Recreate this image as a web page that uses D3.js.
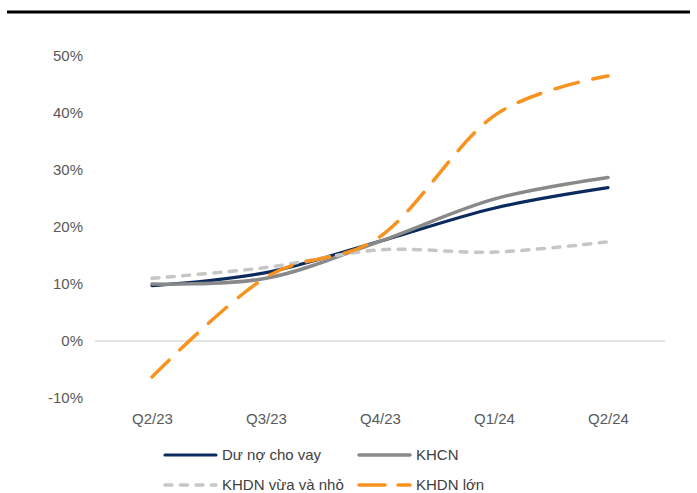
<!DOCTYPE html>
<html>
<head>
<meta charset="utf-8">
<script src="https://cdn.jsdelivr.net/npm/d3@7"></script>
<style>
  html, body { margin: 0; padding: 0; background: #ffffff; }
  svg { display: block; font-family: Arial, "Liberation Sans", sans-serif; }
</style>
</head>
<body>
<svg id="chart" width="697" height="493"></svg>
<script>
// Quarters on the x axis
const quarters = ["Q2/23", "Q3/23", "Q4/23", "Q1/24", "Q2/24"];

// Year-on-year growth (%) per segment
const duNoChoVay = [9.7, 12.0, 17.5, 23.3, 26.9];
const khcn = [10.0, 11.0, 17.5, 24.9, 28.7];
const khdnVuaVaNho = [11.0, 12.9, 16.0, 15.6, 17.4];
const khdnLon = [-6.3, 11.2, 18.3, 39.5, 46.5];

// Y axis ticks (%)
const yTicks = [-10, 0, 10, 20, 30, 40, 50];

const series = [
  { name: "Dư nợ cho vay", values: duNoChoVay, color: "#0b2a5e", width: 3.2, dash: null, legendDash: null },
  { name: "KHCN", values: khcn, color: "#898989", width: 3.5, dash: null, legendDash: null },
  { name: "KHDN vừa và nhỏ", values: khdnVuaVaNho, color: "#c6c6c6", width: 3.5, dash: "7,8.5", legendDash: "7,8.5" },
  { name: "KHDN lớn", values: khdnLon, color: "#f7931e", width: 3.5, dash: "24,15", legendDash: "26,13" }
];

const labelFont = "15px";
const svg = d3.select("#chart");

// Top rule
svg.append("line")
  .attr("x1", 7).attr("x2", 690)
  .attr("y1", 12).attr("y2", 12)
  .attr("stroke", "#000").attr("stroke-width", 3);

const x = d3.scalePoint().domain(quarters).range([152, 608]);
const y = d3.scaleLinear().domain([-10, 50]).range([398, 56]);

// Zero line
svg.append("line")
  .attr("x1", 95).attr("x2", 665)
  .attr("y1", y(0)).attr("y2", y(0))
  .attr("stroke", "#d9d9d9").attr("stroke-width", 1.3);

// Y axis labels
const yAxis = d3.axisLeft(y).tickValues(yTicks).tickFormat(d => d + "%").tickSize(0).tickPadding(0);
const gy = svg.append("g").attr("transform", "translate(83,0)").call(yAxis);
gy.select(".domain").remove();
gy.selectAll("text").attr("fill", "#595959").style("font-size", labelFont)
  .style("font-family", "Arial, 'Liberation Sans', sans-serif");

// X axis labels
const xAxis = d3.axisBottom(x).tickSize(0).tickPadding(0);
const gx = svg.append("g").attr("transform", "translate(0,413)").call(xAxis);
gx.select(".domain").remove();
gx.selectAll("text").attr("fill", "#595959").style("font-size", labelFont)
  .style("font-family", "Arial, 'Liberation Sans', sans-serif");

// Smoothed series lines
const line = d3.line()
  .x((d, i) => x(quarters[i]))
  .y(d => y(d))
  .curve(d3.curveCardinal.tension(0));

series.forEach(s => {
  svg.append("path")
    .datum(s.values)
    .attr("d", line)
    .attr("fill", "none")
    .attr("stroke", s.color)
    .attr("stroke-width", s.width)
    .attr("stroke-linecap", "round")
    .attr("stroke-linejoin", "round")
    .attr("stroke-dasharray", s.dash);
});

// Legend
const legendPos = [
  { lx: 164, ly: 455 },
  { lx: 358, ly: 455 },
  { lx: 164, ly: 485 },
  { lx: 358, ly: 485 }
];
series.forEach((s, i) => {
  const p = legendPos[i];
  const g = svg.append("g").attr("transform", `translate(${p.lx},${p.ly})`);
  g.append("line")
    .attr("x1", 1).attr("x2", 52)
    .attr("y1", 0).attr("y2", 0)
    .attr("stroke", s.color)
    .attr("stroke-width", s.width)
    .attr("stroke-linecap", "round")
    .attr("stroke-dasharray", s.legendDash);
  g.append("text")
    .attr("x", 58).attr("y", 0).attr("dy", "0.35em")
    .attr("fill", "#404040")
    .style("font-size", labelFont)
    .text(s.name);
});
</script>
</body>
</html>
